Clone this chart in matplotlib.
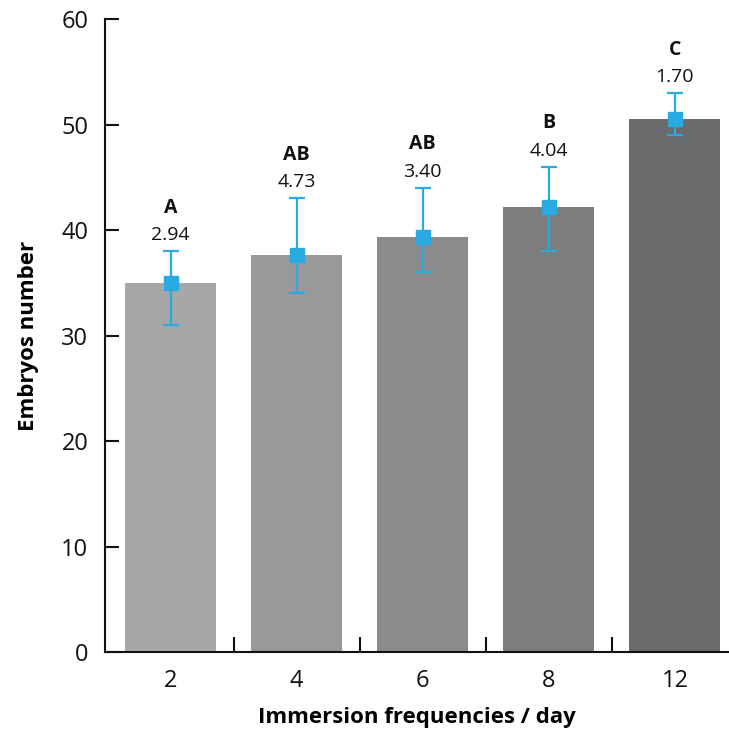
from matplotlib import pyplot as plt
import numpy as np

freqs = ['2', '4', '6', '8', '12']
means = [35.0, 37.6, 39.3, 42.2, 50.5]
err_low = [31.0, 34.0, 36.0, 38.0, 49.0]
err_high = [38.0, 43.0, 44.0, 46.0, 53.0]
sd_labels = ['2.94', '4.73', '3.40', '4.04', '1.70']
groups = ['A', 'AB', 'AB', 'B', 'C']

BAR_COLORS = ['#a6a7a9', '#98999b', '#8a8b8d', '#7c7d7f', '#6a6b6d']
BLUE = '#29aae1'

plt.rcParams['font.family'] = ['Open Sans', 'DejaVu Sans']

fig = plt.figure(figsize=[7.29, 7.31], dpi=100)
ax = fig.add_axes([0.144, 0.108, 0.855, 0.866])

x = np.arange(len(freqs))
m = np.array(means)
yerr = [m - np.array(err_low), np.array(err_high) - m]

ax.bar(x, means, width=0.72, color=BAR_COLORS, zorder=1)
ax.errorbar(x, means, yerr=yerr, fmt='s', color=BLUE, ecolor=BLUE,
			markersize=10, elinewidth=1.6, capsize=6, capthick=1.6, zorder=3)

for i in range(len(freqs)):
	ax.annotate(sd_labels[i], (x[i], err_high[i]), xytext=(0, 5), textcoords='offset points',
				ha='center', va='bottom', fontsize=14, color='#111111')
	ax.annotate(groups[i], (x[i], err_high[i]), xytext=(0, 24), textcoords='offset points',
				ha='center', va='bottom', fontsize=14, fontweight='bold', color='#111111')

ax.set_xlim(-0.52, 4.424)
ax.set_ylim(0, 60)
ax.set_yticks(range(0, 61, 10))
ax.set_xticks(x)
ax.set_xticklabels(freqs)
ax.set_xticks(x[:-1] + 0.5, minor=True)

for s in ['top', 'right']:
	ax.spines[s].set_visible(False)
for s in ['left', 'bottom']:
	ax.spines[s].set_linewidth(1.5)
	ax.spines[s].set_color('#111111')

ax.tick_params(axis='y', direction='in', length=10, width=1.5, labelsize=17, pad=12, colors='#111111')
ax.tick_params(axis='x', which='major', length=0, labelsize=17, pad=12, colors='#111111')
ax.tick_params(axis='x', which='minor', direction='in', length=11, width=1.5, color='#111111')

ax.set_xlabel('Immersion frequencies / day', fontsize=16, fontweight='bold', labelpad=10)
ax.set_ylabel('Embryos number', fontsize=16, fontweight='bold', labelpad=16)

plt.savefig('out.png', dpi=100)
plt.close()
